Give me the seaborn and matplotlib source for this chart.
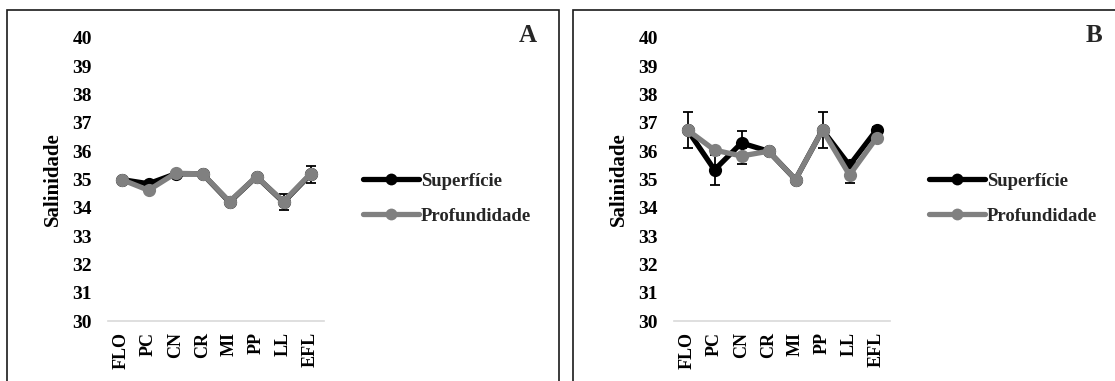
import matplotlib
matplotlib.use("Agg")
import matplotlib.pyplot as plt
import seaborn as sns
import numpy as np
import pandas as pd
from matplotlib.patches import Rectangle
from matplotlib.lines import Line2D

# ---------------- data ----------------
sites = ["FLO", "PC", "CN", "CR", "MI", "PP", "LL", "EFL"]
series_names = ["Superfície", "Profundidade"]
yticks = [30, 31, 32, 33, 34, 35, 36, 37, 38, 39, 40]

a_sup = [35.0, 34.85, 35.2, 35.2, 34.2, 35.1, 34.2, 35.18]
a_sup_err = [0.0, 0.0, 0.0, 0.0, 0.0, 0.0, 0.29, 0.30]
a_prof = [35.0, 34.62, 35.22, 35.2, 34.22, 35.1, 34.22, 35.2]
a_prof_err = [0.0, 0.0, 0.0, 0.0, 0.0, 0.0, 0.0, 0.0]

b_sup = [36.75, 35.34, 36.29, 36.0, 35.0, 36.75, 35.5, 36.75]
b_sup_err = [0.62, 0.54, 0.42, 0.0, 0.0, 0.62, 0.0, 0.12]
b_prof = [36.75, 36.04, 35.83, 36.0, 35.0, 36.75, 35.16, 36.47]
b_prof_err = [0.0, 0.0, 0.28, 0.0, 0.0, 0.0, 0.27, 0.0]

panels = [
    ("A", a_sup, a_sup_err, a_prof, a_prof_err),
    ("B", b_sup, b_sup_err, b_prof, b_prof_err),
]

# ---------------- style ----------------
sns.set_theme(style="white")
plt.rcParams["font.family"] = ["Liberation Serif", "DejaVu Serif"]
plt.rcParams["font.weight"] = "bold"

W, H = 1115, 381
fig = plt.figure(figsize=(W / 100, H / 100), dpi=100)

colors = {"Superfície": "#000000", "Profundidade": "#808080"}

offset = 566  # pixel offset between the two panels
for i, (letter, sup, sup_err, prof, prof_err) in enumerate(panels):
    dx = i * offset
    # panel frame
    fig.patches.append(Rectangle(((7 + dx) / W, -0.1), 552 / W, 1.1 - 9.5 / H,
                                 transform=fig.transFigure, fill=False,
                                 edgecolor="#1a1a1a", linewidth=1.2, zorder=0))
    ax = fig.add_axes([(108 + dx) / W, (H - 321) / H, 216 / W, 283 / H])
    x = np.arange(len(sites))
    df = pd.DataFrame({
        "x": np.concatenate([x, x]),
        "Salinidade": sup + prof,
        "serie": [series_names[0]] * len(sites) + [series_names[1]] * len(sites),
    })
    # error bars (black), drawn below the lines
    ax.errorbar(x, sup, yerr=sup_err, fmt="none", ecolor="black", elinewidth=1.3,
                capsize=3.8, capthick=1.3, zorder=1, clip_on=False)
    ax.errorbar(x, prof, yerr=prof_err, fmt="none", ecolor="black", elinewidth=1.3,
                capsize=3.8, capthick=1.3, zorder=1, clip_on=False)
    sns.lineplot(data=df, x="x", y="Salinidade", hue="serie", palette=colors,
                 hue_order=series_names, marker="o", markersize=9.5,
                 markeredgewidth=0, linewidth=3.8, legend=False, ax=ax,
                 errorbar=None, sort=False)
    for ln in ax.lines:
        ln.set_clip_on(False)
    ax.set_ylim(30, 40)
    ax.set_xlim(-0.5, len(sites) - 0.5)
    ax.set_yticks(yticks)
    ax.set_yticklabels([str(t) for t in yticks], fontsize=14, fontweight="bold")
    ax.set_xticks(x)
    ax.set_xticklabels(sites, rotation=90, fontsize=13, fontweight="bold",
                       va="top", ha="center")
    ax.tick_params(axis="y", length=0, pad=11.5, colors="black")
    ax.tick_params(axis="x", length=0, pad=8, colors="black")
    for s in ["left", "right", "top"]:
        ax.spines[s].set_visible(False)
    ax.spines["bottom"].set_color("#d9d9d9")
    ax.spines["bottom"].set_linewidth(1.2)
    ax.set_facecolor("none")
    ax.grid(False)
    ax.set_xlabel("")
    ax.set_ylabel("Salinidade", fontsize=15, fontweight="bold", color="black",
                  va="center")
    ax.yaxis.set_label_coords(-0.255, 0.5)

    # legend
    handles = [Line2D([0], [0], color=colors[n], linewidth=3.8, marker="o",
                      markersize=8.5, markeredgewidth=0) for n in series_names]
    fig.legend(handles, series_names, loc="center left",
               bbox_to_anchor=((363 + dx) / W, (H - 198.5) / H),
               frameon=False, prop={"weight": "bold", "size": 13.5},
               handlelength=3.0, handletextpad=0.1, labelspacing=0.95,
               borderpad=0, borderaxespad=0)

    fig.text((528 + dx) / W, (H - 36) / H, letter, fontsize=18, fontweight="bold",
             ha="center", va="center")

fig.savefig("out.png", dpi=100)
